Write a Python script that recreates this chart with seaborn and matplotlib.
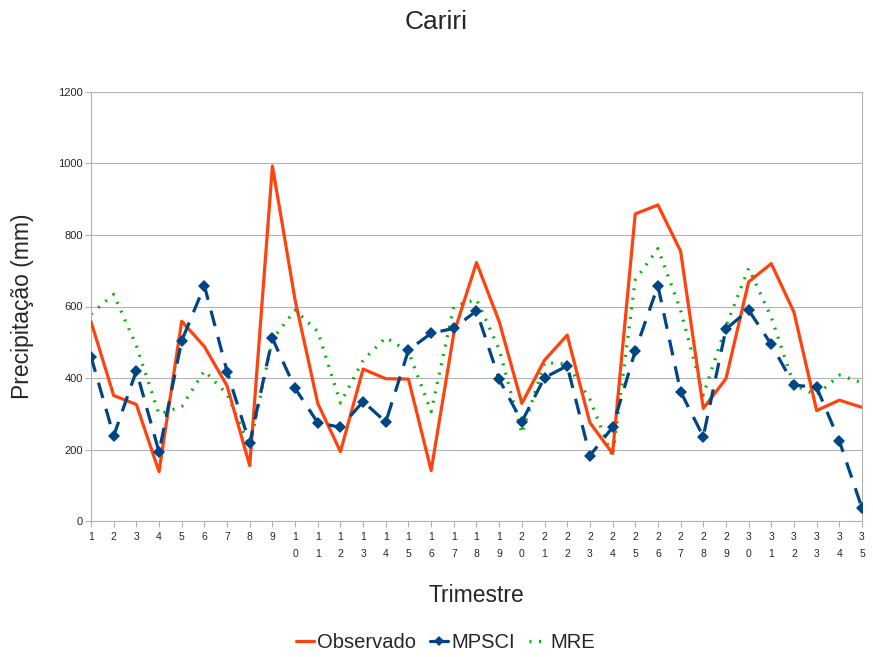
import numpy as np
import pandas as pd
import matplotlib
matplotlib.use("Agg")
import matplotlib.pyplot as plt
import seaborn as sns
from matplotlib.lines import Line2D

trimestres = list(range(1, 36))
observado = [558, 351, 326, 138, 559, 488, 378, 155, 993, 618, 329, 194, 425, 398, 397, 141, 525,
             723, 558, 329, 450, 520, 275, 189, 859, 884, 755, 315, 398, 669, 720, 584, 309, 338, 318]
mpsci = [460, 238, 420, 193, 504, 658, 418, 217, 511, 371, 275, 262, 334, 277, 478, 525, 539,
         588, 396, 278, 401, 434, 183, 262, 476, 658, 362, 236, 537, 590, 494, 380, 374, 224, 36]
mre = [579, 634, 490, 299, 320, 420, 355, 208, 508, 590, 530, 330, 450, 513, 474, 306, 600,
       620, 480, 245, 443, 439, 340, 180, 674, 762, 590, 352, 544, 707, 570, 380, 352, 408, 387]

df = pd.DataFrame({"Trimestre": trimestres, "Observado": observado, "MPSCI": mpsci, "MRE": mre})

sns.set_theme(style="white")
plt.rcParams['font.family'] = ['Liberation Sans', 'DejaVu Sans']

fig = plt.figure(figsize=(8.73, 6.57), dpi=100)
ax = fig.add_axes([91/873, (657-521)/657, (862-91)/873, (521-92)/657])

c_obs = "#ff420e"
c_mp = "#004586"
c_mre = "#00b000"

sns.lineplot(data=df, x="Trimestre", y="Observado", ax=ax, color=c_obs, lw=2.3, zorder=3)
sns.lineplot(data=df, x="Trimestre", y="MPSCI", ax=ax, color=c_mp, lw=2.3, marker="D",
             markersize=6, markeredgewidth=0, zorder=4, dashes=False, linestyle=(0, (5, 3.5)))
sns.lineplot(data=df, x="Trimestre", y="MRE", ax=ax, color=c_mre, lw=2.3, zorder=2,
             linestyle=(0, (0.6, 2.4)), dash_capstyle="butt")

ax.set_xlim(1, 35)
ax.set_ylim(0, 1200)
ax.set_yticks(np.arange(0, 1201, 200))
ax.set_xticks(trimestres)
ax.set_xticklabels(["\n".join(str(t)) for t in trimestres], fontsize=7.5, linespacing=1.8)
ax.tick_params(axis="y", labelsize=8, length=4, width=0.8, color="#b3b3b3", pad=2, left=True)
ax.tick_params(axis="x", length=4, width=0.8, color="#b3b3b3", pad=4, bottom=True)
ax.grid(axis="y", color="#b3b3b3", lw=0.8)
ax.grid(axis="x", visible=False)
for s in ax.spines.values():
    s.set_color("#b3b3b3")
    s.set_linewidth(0.8)

ax.set_xlabel("Trimestre", fontsize=16.5, labelpad=18)
ax.set_ylabel("Precipitação (mm)", fontsize=16.5, labelpad=17)
fig.suptitle("Cariri", fontsize=19, y=0.985)

handles = [Line2D([], [], color=c_obs, lw=2.3),
           Line2D([], [], color=c_mp, lw=2.3, marker="D", markersize=5, markeredgewidth=0),
           Line2D([], [], color=c_mre, lw=2.3, linestyle=(0, (0.6, 2.4)))]
fig.legend(handles, ["Observado", "MPSCI", "MRE"], loc="center", bbox_to_anchor=(0.510, 0.022),
           ncol=3, frameon=False, fontsize=14.5, handlelength=0.9, handletextpad=0.15, columnspacing=0.7)

fig.savefig("out.png", dpi=100)
